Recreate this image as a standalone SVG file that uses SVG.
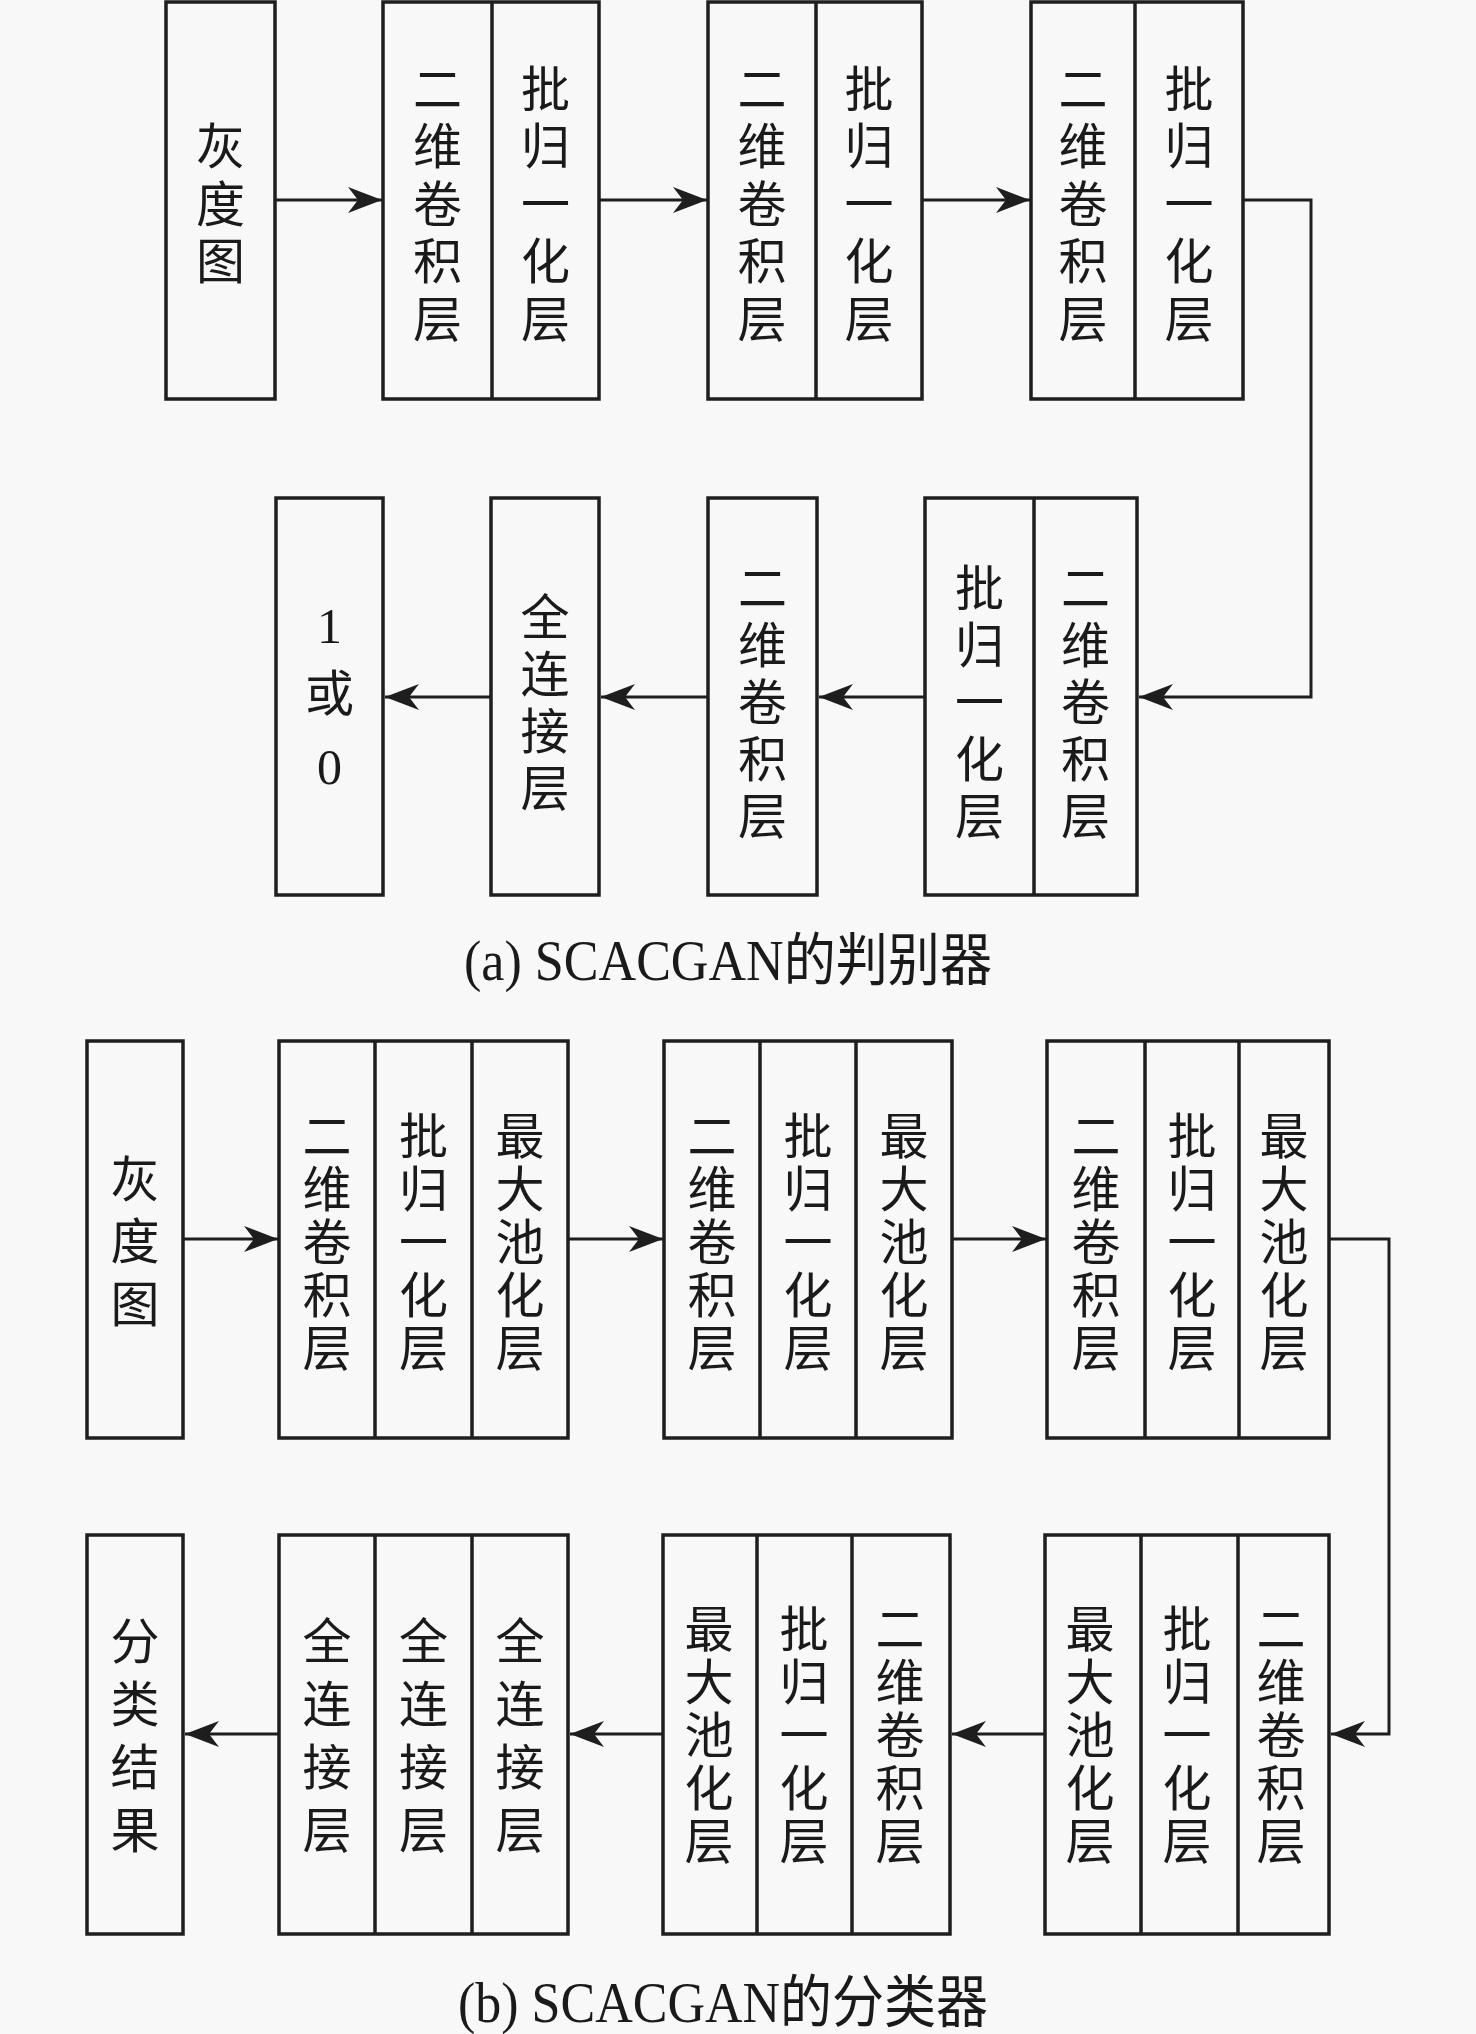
<svg xmlns="http://www.w3.org/2000/svg" width="1476" height="2034" viewBox="0 0 1476 2034">
<style>
.bg{fill:#f8f8f8}
.box{fill:#f8f8f8;stroke:#1e1e1e;stroke-width:3.5}
.div{stroke:#1e1e1e;stroke-width:3.5}
.conn{fill:none;stroke:#1e1e1e;stroke-width:3;marker-end:url(#arr)}
.t{font-family:"Noto Sans CJK SC","Noto Sans CJK JP",sans-serif;font-size:49px;fill:#1a1a1a;text-anchor:middle}
.v{font-family:"Noto Sans CJK SC","Noto Sans CJK JP",sans-serif;font-size:49px;fill:#1a1a1a;writing-mode:vertical-rl;text-anchor:start}
.s575{letter-spacing:8.5px}
.s57{letter-spacing:8px}
.s53{letter-spacing:4px}
.s625{letter-spacing:13.5px}
.s63{letter-spacing:14px}
.d{font-family:"Liberation Serif","Times New Roman",serif;font-size:50px;fill:#1a1a1a;text-anchor:middle}
.cap{font-family:"Liberation Serif","Noto Sans CJK SC",serif;font-size:57px;fill:#1a1a1a}
</style>
<defs>
<marker id="arr" viewBox="0 0 36 28" markerUnits="userSpaceOnUse" markerWidth="36" markerHeight="28" refX="34" refY="14" orient="auto">
<path d="M34,14 L0,1 L10,14 L0,27 Z" fill="#1e1e1e"/>
</marker>
</defs>
<rect class="bg" x="0" y="0" width="1476" height="2034"/>

<!-- ===== (a) row 1 ===== -->
<g id="a-gray">
<rect class="box" x="166" y="2" width="109" height="397"/>
<text class="v s575" x="220.5" y="121">灰度图</text>
</g>
<g id="a-block1">
<rect class="box" x="383" y="2" width="216" height="397"/>
<line class="div" x1="492" y1="2" x2="492" y2="399"/>
<text class="v s575" x="437.5" y="63.5">二维卷积层</text>
<text class="v s575" x="545.5" y="63.5">批归一化层</text>
</g>
<g id="a-block2">
<rect class="box" x="708" y="2" width="214" height="397"/>
<line class="div" x1="816" y1="2" x2="816" y2="399"/>
<text class="v s575" x="762" y="63.5">二维卷积层</text>
<text class="v s575" x="869" y="63.5">批归一化层</text>
</g>
<g id="a-block3">
<rect class="box" x="1031" y="2" width="212" height="397"/>
<line class="div" x1="1135" y1="2" x2="1135" y2="399"/>
<text class="v s575" x="1083" y="63.5">二维卷积层</text>
<text class="v s575" x="1189" y="63.5">批归一化层</text>
</g>

<!-- ===== (a) row 2 ===== -->
<g id="a-out">
<rect class="box" x="276" y="498" width="107" height="397"/>
<text class="d" x="329.5" y="643">1</text>
<text class="t" x="329.5" y="711">或</text>
<text class="d" x="329.5" y="784">0</text>
</g>
<g id="a-fc">
<rect class="box" x="491" y="498" width="108" height="397"/>
<text class="v s57" x="545" y="591.5">全连接层</text>
</g>
<g id="a-conv5">
<rect class="box" x="708" y="498" width="109" height="397"/>
<text class="v s57" x="762.5" y="562.5">二维卷积层</text>
</g>
<g id="a-block4">
<rect class="box" x="925" y="498" width="212" height="397"/>
<line class="div" x1="1034" y1="498" x2="1034" y2="895"/>
<text class="v s57" x="979.5" y="562.5">批归一化层</text>
<text class="v s57" x="1085.5" y="562.5">二维卷积层</text>
</g>

<!-- ===== (b) row 1 ===== -->
<g id="b-gray">
<rect class="box" x="87" y="1041" width="96" height="397"/>
<text class="v s625" x="135" y="1153.7">灰度图</text>
</g>
<g id="b-block1">
<rect class="box" x="279" y="1041" width="289" height="397"/>
<line class="div" x1="375" y1="1041" x2="375" y2="1438"/>
<line class="div" x1="472" y1="1041" x2="472" y2="1438"/>
<text class="v s53" x="327" y="1110.5">二维卷积层</text>
<text class="v s53" x="423.5" y="1110.5">批归一化层</text>
<text class="v s53" x="520" y="1110.5">最大池化层</text>
</g>
<g id="b-block2">
<rect class="box" x="664" y="1041" width="288" height="397"/>
<line class="div" x1="760" y1="1041" x2="760" y2="1438"/>
<line class="div" x1="856" y1="1041" x2="856" y2="1438"/>
<text class="v s53" x="712" y="1110.5">二维卷积层</text>
<text class="v s53" x="808" y="1110.5">批归一化层</text>
<text class="v s53" x="904" y="1110.5">最大池化层</text>
</g>
<g id="b-block3">
<rect class="box" x="1047" y="1041" width="282" height="397"/>
<line class="div" x1="1145" y1="1041" x2="1145" y2="1438"/>
<line class="div" x1="1239" y1="1041" x2="1239" y2="1438"/>
<text class="v s53" x="1096" y="1110.5">二维卷积层</text>
<text class="v s53" x="1192" y="1110.5">批归一化层</text>
<text class="v s53" x="1284" y="1110.5">最大池化层</text>
</g>

<!-- ===== (b) row 2 ===== -->
<g id="b-out">
<rect class="box" x="87" y="1535" width="96" height="399"/>
<text class="v s63" x="135" y="1615.5">分类结果</text>
</g>
<g id="b-fc">
<rect class="box" x="279" y="1535" width="289" height="399"/>
<line class="div" x1="375" y1="1535" x2="375" y2="1934"/>
<line class="div" x1="472" y1="1535" x2="472" y2="1934"/>
<text class="v s63" x="327" y="1615.5">全连接层</text>
<text class="v s63" x="423.5" y="1615.5">全连接层</text>
<text class="v s63" x="520" y="1615.5">全连接层</text>
</g>
<g id="b-block5">
<rect class="box" x="663" y="1535" width="287" height="399"/>
<line class="div" x1="757" y1="1535" x2="757" y2="1934"/>
<line class="div" x1="852" y1="1535" x2="852" y2="1934"/>
<text class="v s53" x="709" y="1604">最大池化层</text>
<text class="v s53" x="804" y="1604">批归一化层</text>
<text class="v s53" x="900" y="1604">二维卷积层</text>
</g>
<g id="b-block4">
<rect class="box" x="1045" y="1535" width="284" height="399"/>
<line class="div" x1="1141" y1="1535" x2="1141" y2="1934"/>
<line class="div" x1="1238" y1="1535" x2="1238" y2="1934"/>
<text class="v s53" x="1090" y="1604">最大池化层</text>
<text class="v s53" x="1187" y="1604">批归一化层</text>
<text class="v s53" x="1281" y="1604">二维卷积层</text>
</g>

<!-- ===== connectors ===== -->
<g id="connectors">
<path class="conn" d="M275,200 H382"/>
<path class="conn" d="M599,200 H707"/>
<path class="conn" d="M922,200 H1030"/>
<path class="conn" d="M1243,200 H1311 V697 H1139"/>
<path class="conn" d="M925,697 H819"/>
<path class="conn" d="M708,697 H601"/>
<path class="conn" d="M491,697 H385"/>
<path class="conn" d="M183,1239 H278"/>
<path class="conn" d="M568,1239 H663"/>
<path class="conn" d="M952,1239 H1046"/>
<path class="conn" d="M1329,1239 H1389 V1734 H1331"/>
<path class="conn" d="M1045,1734 H952"/>
<path class="conn" d="M663,1734 H570"/>
<path class="conn" d="M279,1734 H185"/>
</g>

<!-- ===== captions ===== -->
<text class="cap" x="464" y="980" textLength="528" lengthAdjust="spacingAndGlyphs">(a) SCACGAN的判别器</text>
<text class="cap" x="458" y="2022" textLength="530" lengthAdjust="spacingAndGlyphs">(b) SCACGAN的分类器</text>
</svg>
